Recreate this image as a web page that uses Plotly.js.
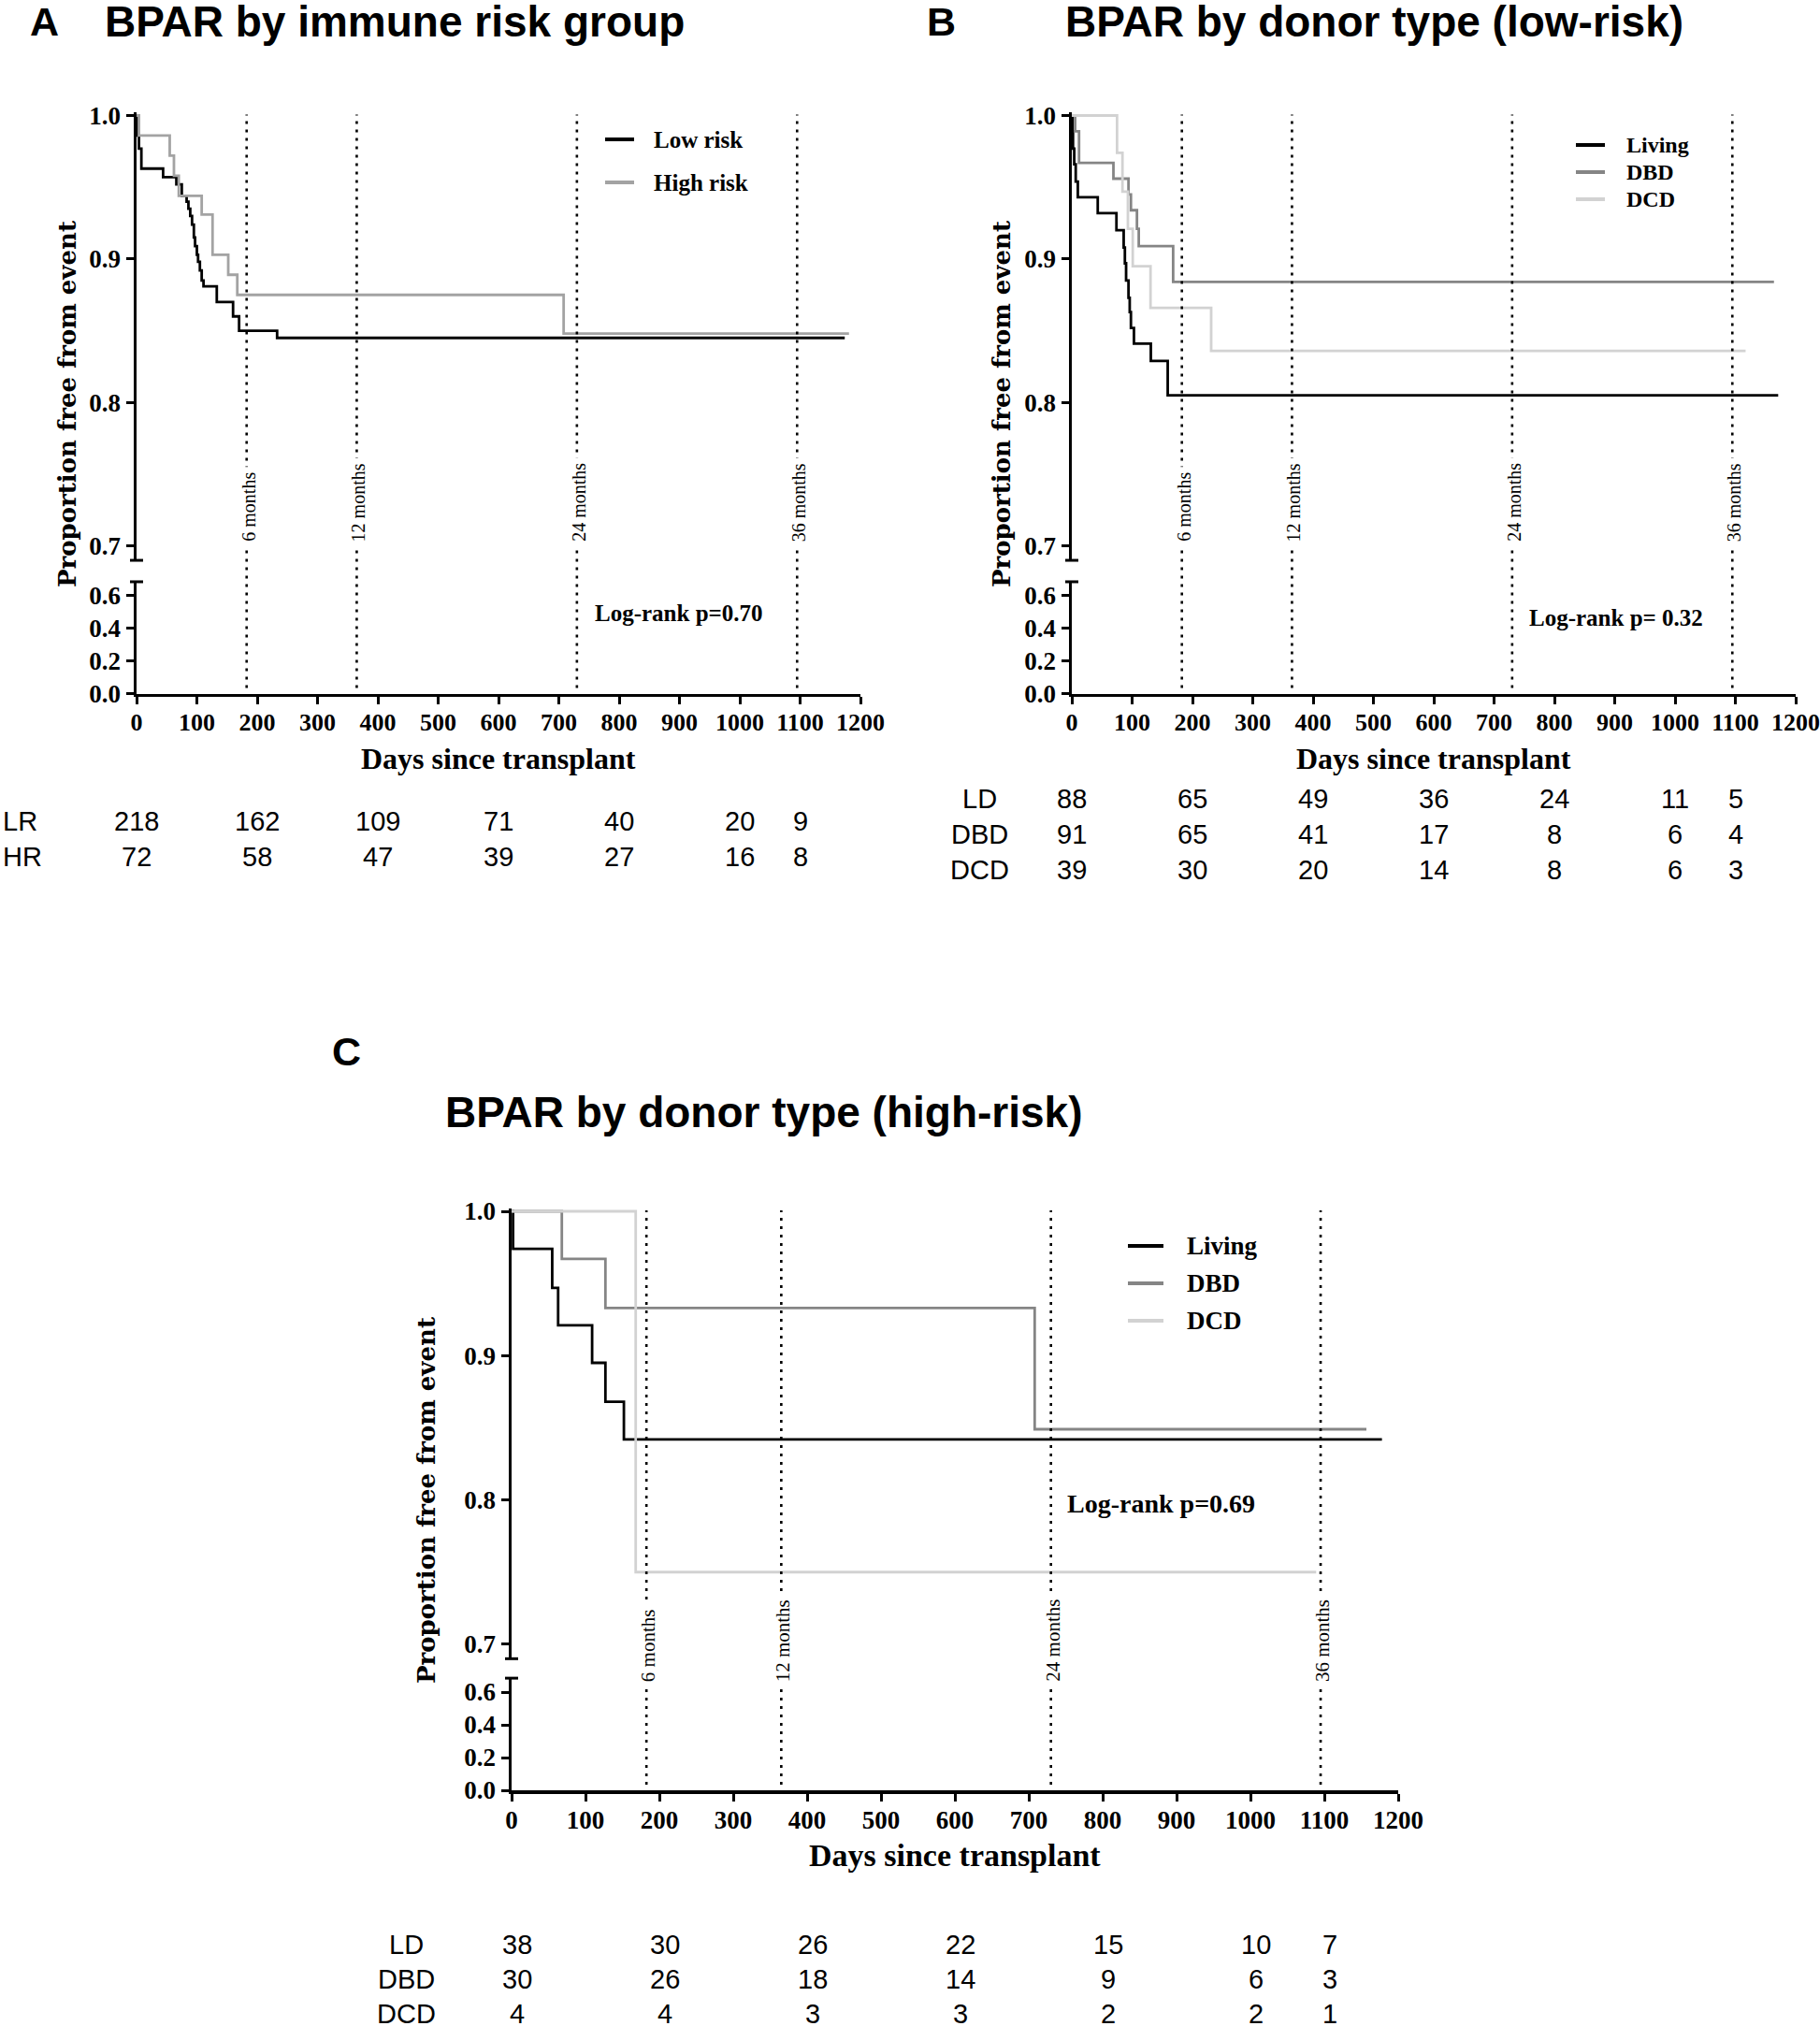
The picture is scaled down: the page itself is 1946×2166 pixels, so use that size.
<!DOCTYPE html>
<html><head><meta charset="utf-8">
<script src="https://cdn.plot.ly/plotly-3.0.1.min.js"></script>
<style>html,body{margin:0;padding:0;background:#fff;}</style>
</head><body><div id="chart" style="width:1946px;height:2166px;"></div>
<script>
// ---------------- DATA ----------------
// Panel A: BPAR by immune risk group
const aLowDays  = [0, 2, 4, 8, 44, 66, 75, 83, 86, 89, 92, 95, 97, 100, 102, 105, 108, 111, 133, 160, 170, 233, 1174];
const aLowSurv  = [1, 0.986, 0.977, 0.963, 0.957, 0.952, 0.944, 0.940, 0.935, 0.930, 0.924, 0.915, 0.909, 0.903, 0.898, 0.892, 0.885, 0.881, 0.870, 0.860, 0.850, 0.845, 0.845];
const aHighDays = [0, 4, 55, 62, 70, 108, 126, 152, 167, 708, 1181];
const aHighSurv = [1, 0.986, 0.972, 0.958, 0.944, 0.931, 0.903, 0.889, 0.875, 0.848, 0.848];

// Panel B: BPAR by donor type (low-risk)
const bLivDays = [0, 1, 2, 4, 6.5, 10, 43, 74, 86, 88, 90, 94, 96, 98, 103, 131, 159, 1171];
const bLivSurv = [1, 0.989, 0.977, 0.966, 0.954, 0.943, 0.932, 0.920, 0.908, 0.897, 0.885, 0.873, 0.863, 0.852, 0.841, 0.829, 0.805, 0.805];
const bDbdDays = [0, 5.5, 12, 69, 94, 98, 108, 111, 168, 1164];
const bDbdSurv = [1, 0.989, 0.967, 0.956, 0.945, 0.934, 0.921, 0.909, 0.884, 0.884];
const bDcdDays = [0, 75, 84, 93, 101, 130.5, 231, 1117];
const bDcdSurv = [1, 0.974, 0.947, 0.921, 0.895, 0.866, 0.836, 0.836];

// Panel C: BPAR by donor type (high-risk)
const cLivDays = [0, 2, 55, 63, 109, 127, 152, 1178];
const cLivSurv = [1, 0.974, 0.947, 0.921, 0.895, 0.868, 0.842, 0.842];
const cDbdDays = [0, 68, 127, 708, 1157];
const cDbdSurv = [1, 0.967, 0.933, 0.849, 0.849];
const cDcdDays = [0, 168, 1089];
const cDcdSurv = [1, 0.75, 0.75];

// Axis ticks and reference lines
const xTickVals = [0, 100, 200, 300, 400, 500, 600, 700, 800, 900, 1000, 1100, 1200];
const yUpperTicks = [0.7, 0.8, 0.9, 1.0];
const yLowerTicks = [0, 0.2, 0.4, 0.6];
const monthDays = [182.5, 365, 730, 1095];
const monthLabels = ['6 months', '12 months', '24 months', '36 months'];

// Numbers at risk
const riskDays = [0, 200, 400, 600, 800, 1000, 1100];
const aRiskLR  = [218, 162, 109, 71, 40, 20, 9];
const aRiskHR  = [72, 58, 47, 39, 27, 16, 8];
const bRiskLD  = [88, 65, 49, 36, 24, 11, 5];
const bRiskDBD = [91, 65, 41, 17, 8, 6, 4];
const bRiskDCD = [39, 30, 20, 14, 8, 6, 3];
const cRiskLD  = [38, 30, 26, 22, 15, 10, 7];
const cRiskDBD = [30, 26, 18, 14, 9, 6, 3];
const cRiskDCD = [4, 4, 3, 3, 2, 2, 1];

// ---------------- LAYOUT HELPERS ----------------
const W = 1946, H = 2166;
const px = v => v / W;
const py = v => 1 - v / H;
const SERIF = 'Liberation Serif, Times New Roman, serif';
const SERIF_WIDE = 'DejaVu Serif, serif';
const SANS = 'Liberation Sans, Arial, sans-serif';
const COL = {black: '#000000', high: '#a3a3a3', dbd: '#858585', dcd: '#d2d2d2'};

const traces = [];
const layout = {
  width: W, height: H,
  margin: {l: 0, r: 0, t: 0, b: 0},
  paper_bgcolor: '#ffffff', plot_bgcolor: 'rgba(0,0,0,0)',
  showlegend: false, shapes: [], annotations: []
};

function ann(o) { layout.annotations.push(Object.assign({showarrow: false}, o)); }

function addPanel(p) {
  const upBottomPix = p.onePix + 0.31 * p.unitU;
  const upTopPix = p.onePix - 0.002 * p.unitU;
  const lowTopPix = p.zeroPix - 0.685 * p.unitL;
  const axBase = {showgrid: false, zeroline: false, showline: true, linecolor: '#000',
                  linewidth: 3.5, ticks: 'outside', ticklen: 8, tickwidth: 3, tickcolor: '#000'};
  layout[p.xa] = Object.assign({}, axBase, {
    domain: [px(p.xL), px(p.xR)], range: [0, 1200], anchor: p.ylid,
    tickvals: xTickVals, ticktext: xTickVals.map(String),
    tickfont: {family: SERIF, size: p.xTickSize, weight: 'bold', color: '#000'},
    ticklabelstandoff: p.xStandoff
  });
  layout[p.yu] = Object.assign({}, axBase, {
    domain: [py(upBottomPix), py(upTopPix)], range: [0.69, 1.002], anchor: p.xid,
    tickvals: yUpperTicks, ticktext: yUpperTicks.map(v => v.toFixed(1)),
    tickfont: {family: SERIF, size: 27, weight: 'bold', color: '#000'}
  });
  layout[p.yl] = Object.assign({}, axBase, {
    domain: [py(p.zeroPix), py(lowTopPix)], range: [0, 0.685], anchor: p.xid,
    tickvals: yLowerTicks, ticktext: yLowerTicks.map(v => v.toFixed(1)),
    tickfont: {family: SERIF, size: 27, weight: 'bold', color: '#000'}
  });
  // empty trace so the lower (broken) y-axis subplot exists
  traces.push({type: 'scatter', mode: 'lines', x: [], y: [], xaxis: p.xid, yaxis: p.ylid,
               hoverinfo: 'skip', showlegend: false});
  // axis break caps
  [upBottomPix, lowTopPix].forEach(yp => layout.shapes.push({
    type: 'line', xref: 'paper', yref: 'paper', x0: px(p.xL - 7), x1: px(p.xL + 7),
    y0: py(yp), y1: py(yp), line: {color: '#000', width: 3}
  }));
  // survival curves
  p.series.forEach(s => traces.push({
    type: 'scatter', mode: 'lines', x: s.days, y: s.surv, xaxis: p.xid, yaxis: p.yuid,
    line: {shape: 'hv', color: s.color, width: 2.8}, name: s.name, hoverinfo: 'skip'
  }));
  // month reference lines + labels
  monthDays.forEach((d, i) => {
    layout.shapes.push({type: 'line', xref: p.xid, yref: 'paper', x0: d, x1: d,
      y0: py(p.zeroPix - 6), y1: py(p.onePix - 1), line: {color: '#000', width: 2.6, dash: '3px,6px'}});
    ann({xref: p.xid, yref: 'paper', x: d, y: py(p.monthBottom), xanchor: 'center', yanchor: 'bottom',
      xshift: 2, textangle: -90, text: monthLabels[i], bgcolor: '#ffffff', borderpad: 5,
      font: {family: SERIF, size: p.monthSize, color: '#000'}});
  });
  // legend (swatch + label)
  p.series.forEach((s, i) => {
    const yp = p.legY[i];
    layout.shapes.push({type: 'line', xref: 'paper', yref: 'paper', x0: px(p.legX[0]), x1: px(p.legX[1]),
      y0: py(yp), y1: py(yp), line: {color: s.color, width: 4}});
    ann({xref: 'paper', yref: 'paper', x: px(p.legX[2]), y: py(yp), xanchor: 'left', yanchor: 'middle',
      text: s.name, font: {family: SERIF, size: p.legSize, weight: 'bold', color: '#000'}});
  });
  // log-rank text
  ann({xref: 'paper', yref: 'paper', x: px(p.lrPos[0]), y: py(p.lrPos[1]), xanchor: 'left', yanchor: 'middle',
    text: p.lrText, font: {family: SERIF, size: p.lrSize, weight: 'bold', color: '#000'}});
  // axis titles
  ann({xref: p.xid, yref: 'paper', x: 600, y: py(p.xTitleY), xanchor: 'center', yanchor: 'middle',
    text: 'Days since transplant', font: {family: SERIF, size: p.xTitleSize, weight: 'bold', color: '#000'}});
  ann({xref: 'paper', yref: 'paper', x: px(p.yTitle[0]), y: py(p.yTitle[1]), xanchor: 'center', yanchor: 'middle',
    textangle: -90, text: 'Proportion free from event',
    font: {family: SERIF_WIDE, size: 26, weight: 'bold', color: '#000'}});
  // panel letter + title
  ann({xref: 'paper', yref: 'paper', x: px(p.letter[0]), y: py(p.letter[1]), xanchor: 'left', yanchor: 'middle',
    text: p.letter[2], font: {family: SANS, size: 43, weight: 'bold', color: '#000'}});
  ann({xref: 'paper', yref: 'paper', x: px(p.title[0]), y: py(p.title[1]), xanchor: 'left', yanchor: 'middle',
    text: p.title[2], font: {family: SANS, size: 46, weight: 'bold', color: '#000'}});
  // numbers at risk
  p.risk.forEach(r => {
    ann({xref: 'paper', yref: 'paper', x: px(r.labelX), y: py(r.y), xanchor: r.labelAnchor, yanchor: 'middle',
      text: r.label, font: {family: SANS, size: 29, color: '#000'}});
    r.values.forEach((v, i) => ann({xref: p.xid, yref: 'paper', x: riskDays[i], y: py(r.y),
      xanchor: 'center', yanchor: 'middle', xshift: p.riskShift,
      text: String(v), font: {family: SANS, size: 29, color: '#000'}}));
  });
}

addPanel({
  xa: 'xaxis', xid: 'x', yu: 'yaxis', yuid: 'y', yl: 'yaxis2', ylid: 'y2',
  xL: 146, xR: 920, onePix: 123.5, unitU: 1534, zeroPix: 741.5, unitL: 174.5,
  xTickSize: 26, xStandoff: -3, monthBottom: 585, monthSize: 20,
  series: [
    {days: aLowDays, surv: aLowSurv, color: COL.black, name: 'Low risk'},
    {days: aHighDays, surv: aHighSurv, color: COL.high, name: 'High risk'}
  ],
  legX: [647, 678, 697], legY: [149, 195], legSize: 25,
  lrPos: [634, 655], lrText: 'Log-rank p=0.70', lrSize: 25,
  xTitleY: 811, xTitleSize: 32, yTitle: [72, 432],
  letter: [30, 23, 'A'], title: [110, 23, 'BPAR by immune risk group'],
  riskShift: 0,
  risk: [
    {label: 'LR', labelX: 1, labelAnchor: 'left', y: 878, values: aRiskLR},
    {label: 'HR', labelX: 1, labelAnchor: 'left', y: 916, values: aRiskHR}
  ]
});

addPanel({
  xa: 'xaxis2', xid: 'x2', yu: 'yaxis3', yuid: 'y3', yl: 'yaxis4', ylid: 'y4',
  xL: 1146, xR: 1920, onePix: 123.5, unitU: 1534, zeroPix: 741.5, unitL: 174.5,
  xTickSize: 26, xStandoff: -3, monthBottom: 585, monthSize: 20,
  series: [
    {days: bLivDays, surv: bLivSurv, color: COL.black, name: 'Living'},
    {days: bDbdDays, surv: bDbdSurv, color: COL.dbd, name: 'DBD'},
    {days: bDcdDays, surv: bDcdSurv, color: COL.dcd, name: 'DCD'}
  ],
  legX: [1685, 1716, 1737], legY: [155, 184, 213], legSize: 24,
  lrPos: [1633, 661], lrText: 'Log-rank p= 0.32', lrSize: 25,
  xTitleY: 811, xTitleSize: 32, yTitle: [1071, 432],
  letter: [989, 23, 'B'], title: [1137, 23, 'BPAR by donor type (low-risk)'],
  riskShift: 0,
  risk: [
    {label: 'LD', labelX: 1047, labelAnchor: 'center', y: 854, values: bRiskLD},
    {label: 'DBD', labelX: 1047, labelAnchor: 'center', y: 892, values: bRiskDBD},
    {label: 'DCD', labelX: 1047, labelAnchor: 'center', y: 930, values: bRiskDCD}
  ]
});

addPanel({
  xa: 'xaxis3', xid: 'x3', yu: 'yaxis5', yuid: 'y5', yl: 'yaxis6', ylid: 'y6',
  xL: 547, xR: 1495, onePix: 1295, unitU: 1543, zeroPix: 1914, unitL: 175,
  xTickSize: 27, xStandoff: -3, monthBottom: 1804, monthSize: 21,
  series: [
    {days: cLivDays, surv: cLivSurv, color: COL.black, name: 'Living'},
    {days: cDbdDays, surv: cDbdSurv, color: COL.dbd, name: 'DBD'},
    {days: cDcdDays, surv: cDcdSurv, color: COL.dcd, name: 'DCD'}
  ],
  legX: [1206, 1244, 1267], legY: [1332, 1372, 1412], legSize: 27,
  lrPos: [1139, 1607], lrText: 'Log-rank p=0.69', lrSize: 28,
  xTitleY: 1983, xTitleSize: 34, yTitle: [456, 1604],
  letter: [353, 1124, 'C'], title: [474, 1189, 'BPAR by donor type (high-risk)'],
  riskShift: 6,
  risk: [
    {label: 'LD', labelX: 434, labelAnchor: 'center', y: 2079, values: cRiskLD},
    {label: 'DBD', labelX: 434, labelAnchor: 'center', y: 2116, values: cRiskDBD},
    {label: 'DCD', labelX: 434, labelAnchor: 'center', y: 2153, values: cRiskDCD}
  ]
});

Plotly.newPlot('chart', traces, layout, {staticPlot: true, displayModeBar: false});
</script>
</body></html>
